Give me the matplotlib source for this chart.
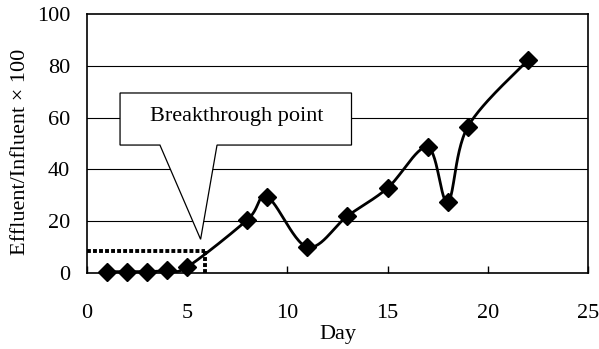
import numpy as np
import matplotlib
matplotlib.use('Agg')
import matplotlib.pyplot as plt
from matplotlib.patches import Polygon

plt.rcParams['font.family'] = ['Liberation Serif', 'DejaVu Serif']

# data
days = [1, 2, 3, 4, 5, 8, 9, 11, 13, 15, 17, 18, 19, 22]
ratio = [0.5, 0.5, 0.5, 1.0, 2.3, 20.5, 29.3, 10.0, 22.0, 32.8, 48.6, 27.4, 56.4, 82.2]
breakthrough_day = 5.9
breakthrough_val = 8.6
x_ticks = [0, 5, 10, 15, 20, 25]
y_ticks = [0, 20, 40, 60, 80, 100]


def smooth_line(xs, ys, steps=30):
    # Excel style smoothed line (bezier with 1/6 control points)
    pts = np.column_stack([xs, ys]).astype(float)
    padded = np.vstack([pts[0], pts, pts[-1]])
    out = []
    t = np.linspace(0, 1, steps)[:, None]
    for i in range(len(pts) - 1):
        p0, p1, p2, p3 = padded[i], padded[i + 1], padded[i + 2], padded[i + 3]
        c1 = p1 + (p2 - p0) / 6
        c2 = p2 - (p3 - p1) / 6
        seg = ((1 - t) ** 3) * p1 + 3 * ((1 - t) ** 2) * t * c1 + 3 * (1 - t) * t ** 2 * c2 + t ** 3 * p2
        out.append(seg)
    out = np.vstack(out)
    return out[:, 0], out[:, 1]


fig = plt.figure(figsize=(5.99, 3.49), dpi=100)
ax = fig.add_axes([0.1452, 0.2178, 0.8364, 0.7421])

for y in y_ticks[1:-1]:
    ax.axhline(y, color='black', lw=0.8, zorder=1)

# breakthrough guide lines
ax.plot([0, breakthrough_day], [breakthrough_val, breakthrough_val],
        color='black', lw=2.8, linestyle=(0, (1.0, 0.55)), zorder=2)
ax.plot([breakthrough_day, breakthrough_day], [0, breakthrough_val],
        color='black', lw=2.8, linestyle=(0, (1.0, 0.55)), zorder=2)

sx, sy = smooth_line(days, ratio)
ax.plot(sx, sy, color='black', lw=2, zorder=3)
ax.plot(days, ratio, linestyle='none', marker='D', markersize=9,
        color='black', zorder=4, clip_on=False)

# callout box
callout = Polygon([(1.65, 69.5), (13.2, 69.5), (13.2, 49.4), (6.49, 49.4),
                   (5.67, 13.0), (3.64, 49.4), (1.65, 49.4)],
                  closed=True, facecolor='white', edgecolor='black', lw=0.9, zorder=5)
ax.add_patch(callout)
ax.text(7.45, 60.5, 'Breakthrough point', ha='center', va='center', fontsize=16, zorder=6)

ax.set_xlim(0, 25)
ax.set_ylim(0, 100)
ax.set_xticks(x_ticks)
ax.set_yticks(y_ticks)
ax.tick_params(axis='x', direction='in', length=5, width=1, pad=22, labelsize=16)
ax.tick_params(axis='y', length=0, pad=12, labelsize=16)
for s in ax.spines.values():
    s.set_linewidth(1.2)

ax.set_xlabel('Day', fontsize=16, labelpad=2)
ax.set_ylabel('Effluent/Influent \u00d7 100', fontsize=16)
ax.yaxis.set_label_coords(-0.114, 0.467)

fig.savefig('out.png', dpi=100)
